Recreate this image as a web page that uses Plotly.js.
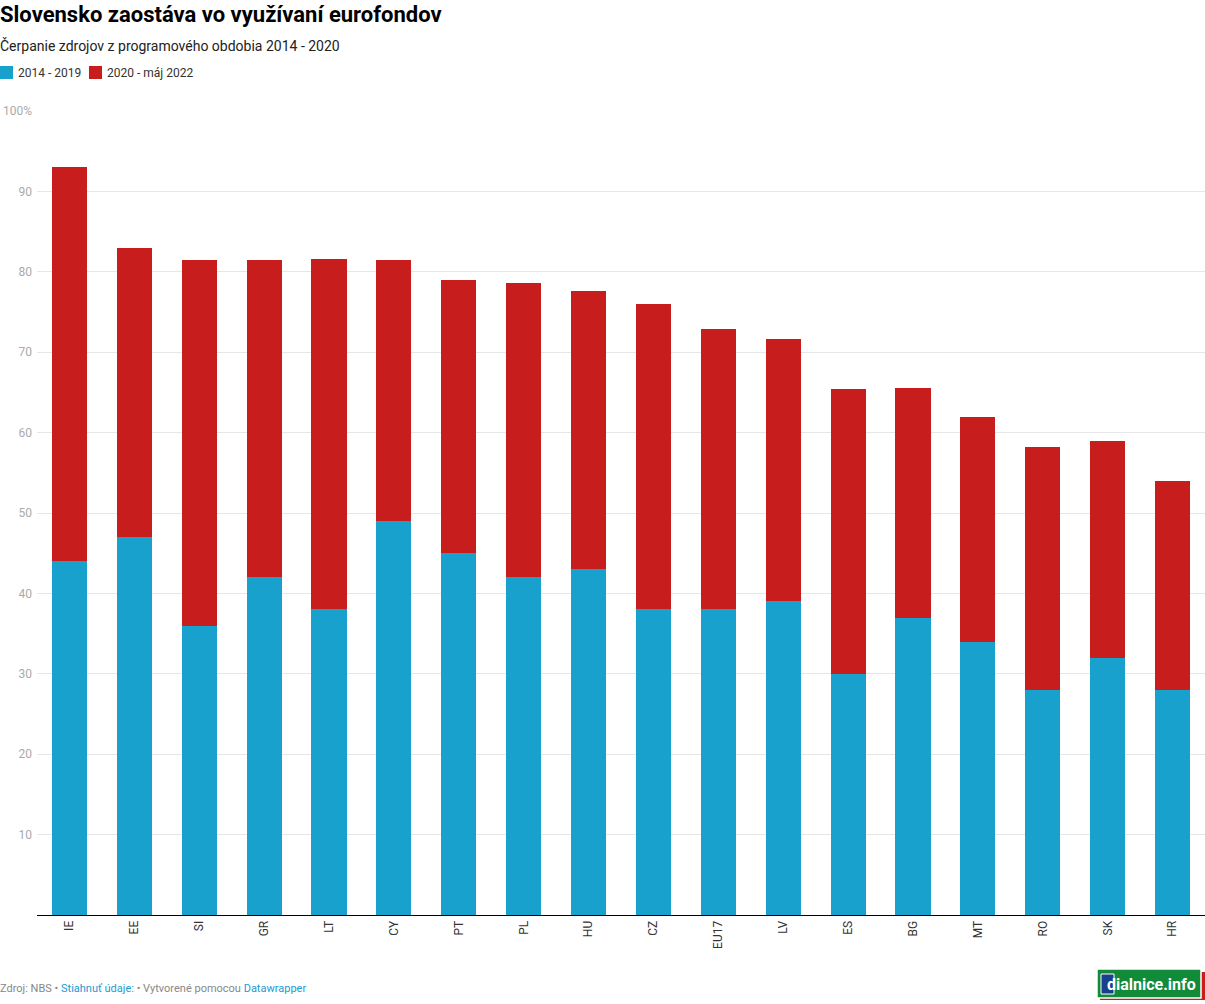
<!DOCTYPE html>
<html>
<head>
<meta charset="utf-8">
<script src="https://cdn.plot.ly/plotly-3.0.1.min.js"></script>
<style>
html,body{margin:0;padding:0;background:#fff;}
#chart{width:1205px;height:1004px;}
</style>
</head>
<body>
<div id="chart"></div>
<script>
const categories = ["IE","EE","SI","GR","LT","CY","PT","PL","HU","CZ","EU17","LV","ES","BG","MT","RO","SK","HR"];
const series2014_2019 = [44,47,36,42,38,49,45,42,43,38,38,39,30,37,34,28,32,28];
const series2020_2022 = [49,36,45.5,39.5,43.6,32.5,34,36.6,34.6,38,34.9,32.6,35.4,28.5,27.9,30.2,27,26];
const seriesNames = ["2014 - 2019","2020 - máj 2022"];
const seriesColors = ["#18a1cd","#c71e1d"];
const yTickVals = [10,20,30,40,50,60,70,80,90,100];
const yTickText = ["10","20","30","40","50","60","70","80","90","100%"];

const FONT = "Roboto, 'Noto Sans', sans-serif";
const W = 1205, H = 1004, L = 37, T = 111, B = 89;
const PW = W - L, PH = H - T - B;
const px = v => (v - L) / PW;          // page x -> paper x
const py = v => (H - B - v) / PH;      // page y -> paper y

const traces = [
  {type:"bar", name:seriesNames[0], x:categories, y:series2014_2019, marker:{color:seriesColors[0]}, hoverinfo:"x+y"},
  {type:"bar", name:seriesNames[1], x:categories, y:series2020_2022, marker:{color:seriesColors[1]}, hoverinfo:"x+y"}
];

const legendShapes = [
  {type:"rect", xref:"paper", yref:"paper", x0:px(0), x1:px(13), y0:py(79), y1:py(66), fillcolor:seriesColors[0], line:{width:0}},
  {type:"rect", xref:"paper", yref:"paper", x0:px(89), x1:px(102), y0:py(79), y1:py(66), fillcolor:seriesColors[1], line:{width:0}}
];
const legendAnn = [
  {text:seriesNames[0], xref:"paper", yref:"paper", x:px(16), y:py(72.5), xanchor:"left", yanchor:"middle", showarrow:false, font:{family:FONT, size:12, color:"#333"}},
  {text:seriesNames[1], xref:"paper", yref:"paper", x:px(105), y:py(72.5), xanchor:"left", yanchor:"middle", showarrow:false, font:{family:FONT, size:12, color:"#333"}}
];

const layout = {
  width:W, height:H,
  margin:{l:L, r:0, t:T, b:B},
  paper_bgcolor:"#fff", plot_bgcolor:"#fff",
  font:{family:FONT, color:"#333"},
  barmode:"stack",
  bargap:0.46,
  showlegend:false,
  title:{text:"<b>Slovensko zaostáva vo využívaní eurofondov</b>", x:0, xref:"container", xanchor:"left",
         y:1-14/H, yref:"container", yanchor:"middle", font:{family:FONT, size:22, color:"#000"}, pad:{l:0}},
  xaxis:{type:"category", range:[-0.5,17.5], tickangle:-90, showgrid:false, showline:true, automargin:false,
         linecolor:"#000", linewidth:1, ticks:"", tickfont:{family:FONT, size:12, color:"#333"},
         fixedrange:true, zeroline:false},
  yaxis:{range:[0,100], tickvals:yTickVals, ticktext:yTickText, showgrid:true, gridcolor:"#e6e6e6", automargin:false,
         gridwidth:1, zeroline:false, showline:false, ticks:"", ticklabelstandoff:4,
         tickfont:{family:FONT, size:12, color:"#aaaaaa"}, fixedrange:true},
  annotations:[
    {text:"Čerpanie zdrojov z programového obdobia 2014 - 2020", xref:"paper", yref:"paper",
     x:px(-2), y:py(45), xanchor:"left", yanchor:"middle", showarrow:false,
     font:{family:FONT, size:14, color:"#222"}},
    ...legendAnn,
    {text:"Zdroj: NBS • <span style='color:#1d9bd1'>Stiahnuť údaje:</span> • Vytvorené pomocou <span style='color:#1d9bd1'>Datawrapper</span>",
     xref:"paper", yref:"paper", x:px(-2), y:py(988), xanchor:"left", yanchor:"middle", showarrow:false,
     font:{family:FONT, size:11, color:"#888"}},
    {text:"<b>dialnice.info</b>", xref:"paper", yref:"paper", x:px(1198), y:py(984),
     xanchor:"right", yanchor:"middle", showarrow:false, font:{family:FONT, size:16, color:"#fff"}}
  ],
  shapes:[
    ...legendShapes,
    {type:"rect", xref:"paper", yref:"paper", x0:px(1100), x1:px(1205), y0:py(1000), y1:py(972),
     fillcolor:"#c71e1d", line:{width:0}, layer:"above"},
    {type:"rect", xref:"paper", yref:"paper", x0:px(1097), x1:px(1201), y0:py(998), y1:py(969),
     fillcolor:"#118a3a", line:{color:"#ffffff", width:1.5}, layer:"above"},
    {type:"rect", xref:"paper", yref:"paper", x0:px(1101), x1:px(1114), y0:py(994), y1:py(974),
     fillcolor:"#1a3f8f", line:{color:"#ffffff", width:1}, layer:"above"}
  ]
};

Plotly.newPlot("chart", traces, layout, {displayModeBar:false});
</script>
</body>
</html>
